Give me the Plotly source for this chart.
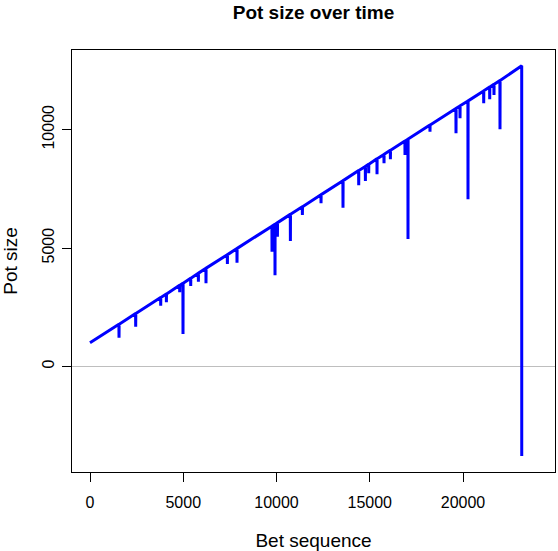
import plotly.graph_objects as go

# pot size: steady climb with sharp dips, then a final crash
bet = [0, 1550, 1556, 1562, 2444, 2450, 2456, 3785, 3791, 3797, 4090, 4096, 4102,
       4804, 4810, 4816, 4981, 4987, 4993, 5394, 5400, 5406, 5806, 5812, 5818,
       6214, 6220, 6226, 7361, 7367, 7373, 7877, 7883, 7889, 9754, 9760, 9766,
       9914, 9920, 9926, 10044, 10050, 10056, 10739, 10745, 10751, 11382, 11388, 11394,
       12382, 12388, 12394, 13560, 13566, 13572, 14402, 14408, 14414, 14761, 14767, 14773,
       14938, 14944, 14950, 15384, 15390, 15396, 15759, 15765, 15771, 16102, 16108, 16114,
       16884, 16890, 16896, 17045, 17051, 17057, 18224, 18230, 18236, 19619, 19625, 19631,
       19834, 19840, 19846, 20262, 20268, 20274, 21104, 21110, 21116, 21426, 21432, 21438,
       21656, 21662, 21668, 21978, 21984, 21990, 23148, 23150]
pot = [1000, 1783, 1216, 1786, 2234, 1681, 2237, 2911, 2568, 2914, 3058, 2711, 3061,
       3426, 3133, 3429, 3515, 1372, 3518, 3724, 3400, 3727, 3938, 3581, 3941,
       4148, 3513, 4151, 4720, 4328, 4723, 4984, 4384, 4987, 5926, 4848, 5929,
       6006, 3851, 6009, 6071, 5480, 6074, 6424, 5300, 6427, 6745, 6398, 6748,
       7254, 6892, 7257, 7846, 6706, 7849, 8273, 7652, 8276, 8448, 7834, 8451,
       8535, 8159, 8538, 8769, 8117, 8772, 8956, 8581, 8959, 9127, 8750, 9130,
       9521, 8932, 9524, 9599, 5384, 9602, 10194, 9916, 10197, 10898, 9848, 10901,
       11004, 10481, 11007, 11213, 7061, 11216, 11637, 11115, 11640, 11799, 11284, 11802,
       11916, 11466, 11919, 12072, 10017, 12075, 12703, -3780]

x_ticks = [0, 5000, 10000, 15000, 20000]
y_ticks = [0, 5000, 10000]

fig = go.Figure()
fig.add_trace(go.Scatter(x=bet, y=pot, mode='lines',
                         line=dict(color='#0000ff', width=3)))
fig.add_hline(y=0, line_color='#bebebe', line_width=1, layer='below')

font = 'Liberation Sans, Arial, sans-serif'
fig.update_layout(
    width=558, height=551,
    margin=dict(l=72, r=3, t=50, b=79),
    paper_bgcolor='white', plot_bgcolor='white',
    showlegend=False,
    font=dict(family=font, size=16, color='black'),
    title=dict(text='<b>Pot size over time</b>', x=(72 + 555) / 2 / 558, xanchor='center',
               y=1 - 12 / 551, yanchor='middle', font=dict(size=19)),
)
fig.update_xaxes(range=[-965, 24933], tickvals=x_ticks, ticktext=[str(v) for v in x_ticks],
                 showgrid=False, zeroline=False, showline=True, linecolor='black',
                 linewidth=1, mirror=True, ticks='outside', ticklen=9, tickcolor='black',
                 ticklabelstandoff=7, automargin=False,
                 title=dict(text='Bet sequence', standoff=25))
fig.update_yaxes(range=[-4455, 13365], tickvals=y_ticks, ticktext=[str(v) for v in y_ticks],
                 tickangle=-90,
                 showgrid=False, zeroline=False, showline=True, linecolor='black',
                 linewidth=1, mirror=True, ticks='outside', ticklen=9, tickcolor='black',
                 ticklabelstandoff=2, automargin=False,
                 title=dict(text='Pot size', standoff=24))

# drop the browser's default 8px body margin so the figure sits at the page corner
fig.write_html("out.html", config={'displayModeBar': False},
               post_script="document.body.style.margin='0';")
